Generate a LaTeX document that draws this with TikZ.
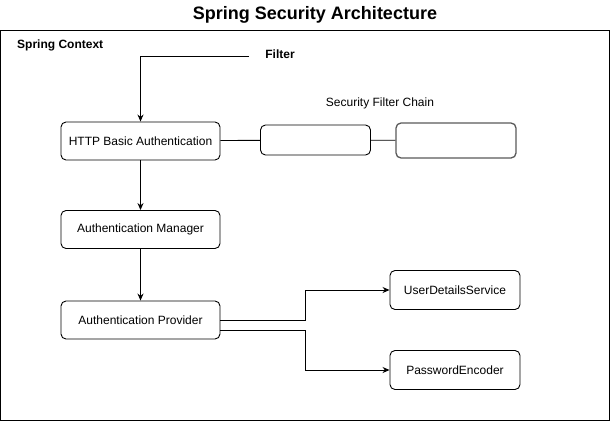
\documentclass[tikz,border=0pt]{standalone}
\usepackage{fontspec}
\setmainfont{Liberation Sans}
\usetikzlibrary{positioning}
\usetikzlibrary{arrows.meta}

\begin{document}
\begin{tikzpicture}[
x = 1pt, y = -1pt,
block/.style = {shape = rectangle, draw = black, rounded corners = 5pt, line width = 0.9pt, minimum width = 159pt, minimum height = 38pt, inner sep = 0pt, font = \fontsize{12}{14}\selectfont},
chain/.style = {shape = rectangle, draw = black, rounded corners = 5pt, line width = 0.9pt, minimum width = 110pt, minimum height = 30pt, inner sep = 0pt},
plain/.style = {font = \fontsize{12}{14}\selectfont, inner sep = 0pt},
bold/.style = {font = \fontsize{12}{14}\selectfont\bfseries, inner sep = 0pt},
flow/.style = {line width = 0.9pt, -{Stealth[length = 7pt, width = 6pt]}},
link/.style = {line width = 0.9pt},
]
\useasboundingbox (0, 0) rectangle (611, 421);
\draw[line width = 1pt] (0.5, 30.5) rectangle (609.5, 420);

\node[font = \fontsize{18}{21}\selectfont\bfseries] (title) at (315, 15) {Spring Security Architecture};
\node[bold, anchor = west] (context) at (17, 45) {Spring Context};
\node[bold] (filter) at (280, 54) {Filter};
\coordinate (fstart) at (249, 56);

\node[block] (http) at (140.5, 141) {HTTP Basic Authentication};
\node[plain] (sfc) at (380, 103) {Security Filter Chain};
\node[chain] (f1) at (315.5, 140) {};
\node[chain, minimum width = 120pt, minimum height = 35pt, draw = black!65, line width = 1.3pt] (f2) at (456, 140.5) {};

\node[block] (mgr) at (140.5, 229.5) {Authentication Manager};
\node[block] (prov) at (140.5, 320) {Authentication Provider};

\node[block, minimum width = 130pt, minimum height = 39pt] (uds) at (455, 290) {UserDetailsService};
\node[block, minimum width = 130pt, minimum height = 39pt] (enc) at (455, 370) {PasswordEncoder};

\draw[flow] (fstart) -| (http);
\draw[link] (http) -- (f1);
\draw[link] (f1) -- (f2);
\draw[flow] (http) -- (mgr);
\draw[flow] (mgr) -- (prov);
\draw[flow] (prov.east) -- ++(85, 0) |- (uds.west);
\draw[flow] ([yshift = -10pt]prov.east) -- ++(85, 0) |- (enc.west);
\end{tikzpicture}
\end{document}
